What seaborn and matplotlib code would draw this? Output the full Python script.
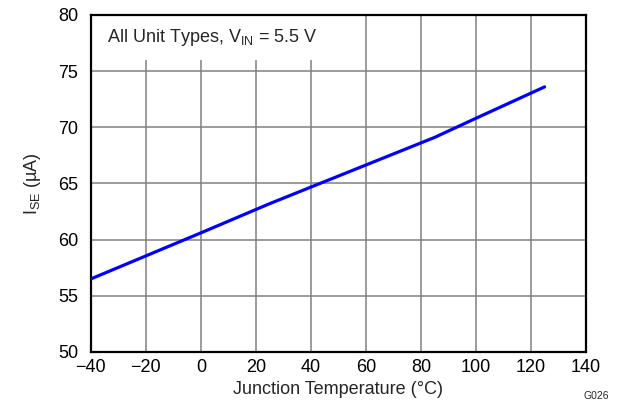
import matplotlib
matplotlib.use("Agg")
import matplotlib.pyplot as plt
import pandas as pd
import seaborn as sns
from matplotlib.patches import Rectangle

# values
temp_c = [-40, 0, 25, 85, 100, 125]
i_se_ua = [56.5, 60.6, 63.2, 69.1, 70.8, 73.6]

x_ticks = [-40, -20, 0, 20, 40, 60, 80, 100, 120, 140]
y_ticks = [50, 55, 60, 65, 70, 75, 80]

sns.set_style("white")
plt.rcParams["font.family"] = ["Liberation Sans", "DejaVu Sans"]
plt.rcParams["mathtext.fontset"] = "custom"
plt.rcParams["mathtext.rm"] = "Liberation Sans"
plt.rcParams["mathtext.it"] = "Liberation Sans"

df = pd.DataFrame({"temp": temp_c, "ise": i_se_ua})

fig = plt.figure(figsize=(6.18, 4.05), dpi=100)
ax = fig.add_axes([0.147, 0.131, 0.801, 0.832])

sns.lineplot(data=df, x="temp", y="ise", color="#0000ff", linewidth=2.3, ax=ax, zorder=3)

ax.set_xlim(-40, 140)
ax.set_ylim(50, 80)
ax.set_xticks(x_ticks)
ax.set_yticks(y_ticks)
ax.tick_params(axis="both", length=0, labelsize=13, colors="black")
ax.tick_params(axis="x", pad=5)
ax.tick_params(axis="y", pad=9)
ax.grid(True, color="#808080", linewidth=1.1)
ax.set_axisbelow(True)
for sp in ax.spines.values():
    sp.set_color("black")
    sp.set_linewidth(1.6)

# white title block that hides the grid in the upper-left corner
ax.add_patch(Rectangle((0, 0.866), 0.552, 0.134, transform=ax.transAxes,
                       facecolor="white", edgecolor="none", zorder=1))
ax.text(0.032, 0.932, r"All Unit Types, V$_{\rm IN}$ = 5.5 V", transform=ax.transAxes,
        fontsize=13, va="center", ha="left", zorder=4)

ax.set_xlabel("Junction Temperature (°C)", fontsize=13, labelpad=4)
ax.set_ylabel(r"I$_{\rm SE}$ (µA)", fontsize=13, labelpad=11)

fig.text(0.985, 0.01, "G026", fontsize=7.5, ha="right", va="bottom")

fig.savefig("out.png", dpi=100)
